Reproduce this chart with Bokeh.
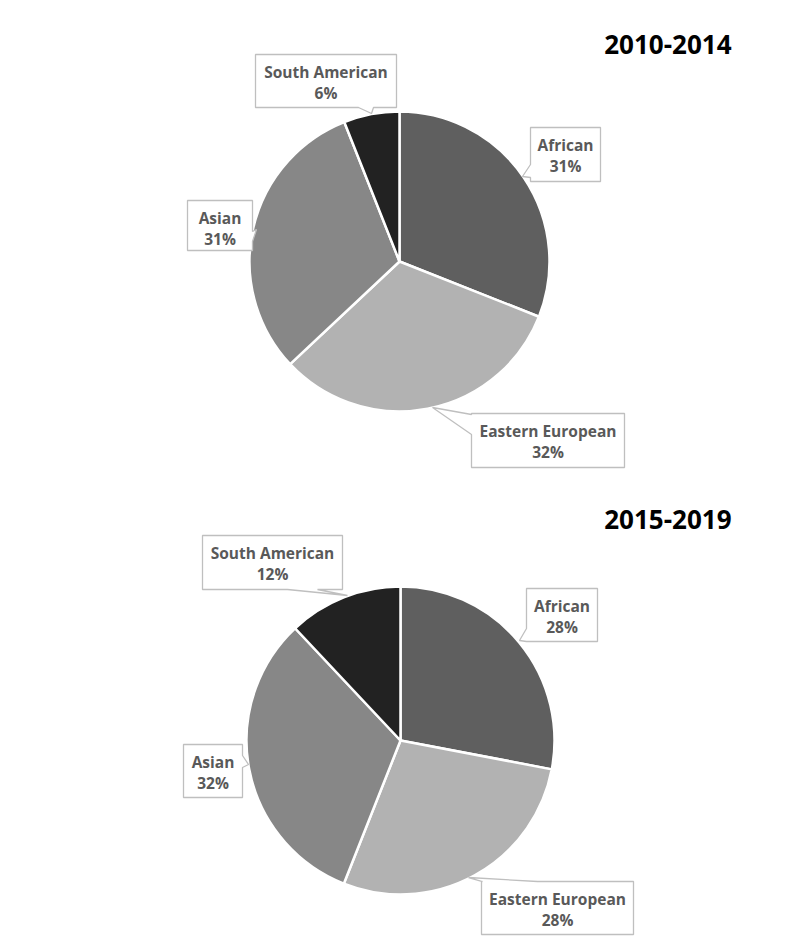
import math
from bokeh.plotting import figure
from bokeh.models import Range1d, ColumnDataSource
from bokeh.core.properties import value
from bokeh.embed import file_html
from bokeh.resources import INLINE

# ---- data ----
categories = ["African", "Eastern European", "Asian", "South American"]
share_2010_2014 = [31, 32, 31, 6]
share_2015_2019 = [28, 28, 32, 12]
periods = ["2010-2014", "2015-2019"]
colors = ["#5f5f5f", "#b2b2b2", "#878787", "#222222"]

# ---- layout (reference pixel coords) ----
W, H = 784, 938
def fx(x): return x
def fy(y): return H - y

pies = [
    dict(cx=399, cy=261, r=150, title_xy=(731, 44), shares=share_2010_2014,
         callouts={
             "African": ((530, 127, 600, 181), "left", (530, 177), (522, 176), (530, 164)),
             "Eastern European": ((471, 413, 624, 467), "left", (471, 434), (432, 407), (471, 414)),
             "Asian": ((187, 200, 252, 250), "right", (252, 231), (256, 229), (252, 241)),
             "South American": ((255, 54, 396, 107), "bottom", (373, 107), (371, 113), (358, 107)),
         }),
    dict(cx=400, cy=740, r=154, title_xy=(731, 519), shares=share_2015_2019,
         callouts={
             "African": ((526, 588, 597, 641), "left", (526, 641), (519, 640), (526, 628)),
             "Eastern European": ((481, 881, 633, 934), "top", (482, 881), (468, 877), (537, 881)),
             "Asian": ((183, 744, 242, 797), "right", (242, 755), (248, 764), (242, 767)),
             "South American": ((202, 535, 342, 589), "bottom", (317, 589), (347, 595), (287, 589)),
         }),
]

def callout_poly(box, side, p1, tip, p2):
    L, T, R, B = box
    if side == "top":
        pts = [(L, T), p1, tip, p2, (R, T), (R, B), (L, B)]
    elif side == "right":
        pts = [(L, T), (R, T), p1, tip, p2, (R, B), (L, B)]
    elif side == "bottom":
        pts = [(L, T), (R, T), (R, B), p1, tip, p2, (L, B)]
    else:
        pts = [(L, T), (R, T), (R, B), (L, B), p1, tip, p2]
    return [fx(p[0]) for p in pts], [fy(p[1]) for p in pts]

p = figure(width=W, height=H, output_backend="svg", toolbar_location=None,
           x_range=Range1d(0, W), y_range=Range1d(0, H), min_border=0)
p.axis.visible = False
p.grid.visible = False
p.outline_line_color = None
p.background_fill_color = "white"
p.border_fill_color = "white"

FONT = "Open Sans"
for pie, period in zip(pies, periods):
    shares = pie["shares"]
    total = float(sum(shares))
    starts, ends = [], []
    cum = 0.0
    for v in shares:
        starts.append(math.pi / 2 - 2 * math.pi * cum / total)
        cum += v
        ends.append(math.pi / 2 - 2 * math.pi * cum / total)
    src = ColumnDataSource(dict(x=[fx(pie["cx"])] * len(shares), y=[fy(pie["cy"])] * len(shares),
                                start=starts, end=ends, color=colors))
    p.wedge(x="x", y="y", radius=pie["r"], start_angle="start", end_angle="end",
            direction="clock", fill_color="color", line_color="white", line_width=2.5, source=src)

    # callouts
    xs, ys, tx, ty1, ty2, names, pcts = [], [], [], [], [], [], []
    for cat, v in zip(categories, shares):
        box, side, p1, tip, p2 = pie["callouts"][cat]
        px, py = callout_poly(box, side, p1, tip, p2)
        xs.append(px); ys.append(py)
        L, T, R, B = box
        tx.append(fx((L + R) / 2))
        ty1.append(fy(T + 17.5))
        ty2.append(fy(T + 38.5))
        names.append(cat)
        pcts.append(f"{v}%")
    p.patches(xs, ys, fill_color="white", line_color="#bfbfbf", line_width=1.3)
    p.text(x=tx, y=ty1, text=names, text_align="center", text_baseline="middle",
           text_font=value(FONT), text_font_style="bold", text_font_size="15.5px", text_color="#595959")
    p.text(x=tx, y=ty2, text=pcts, text_align="center", text_baseline="middle",
           text_font=value(FONT), text_font_style="bold", text_font_size="15.5px", text_color="#595959")

    # title
    p.text(x=[fx(pie["title_xy"][0])], y=[fy(pie["title_xy"][1])], text=[period],
           text_align="right", text_baseline="middle", text_font=value(FONT),
           text_font_style="bold", text_font_size="26px", text_color="black")

open("out.html", "w").write(file_html(p, INLINE))
